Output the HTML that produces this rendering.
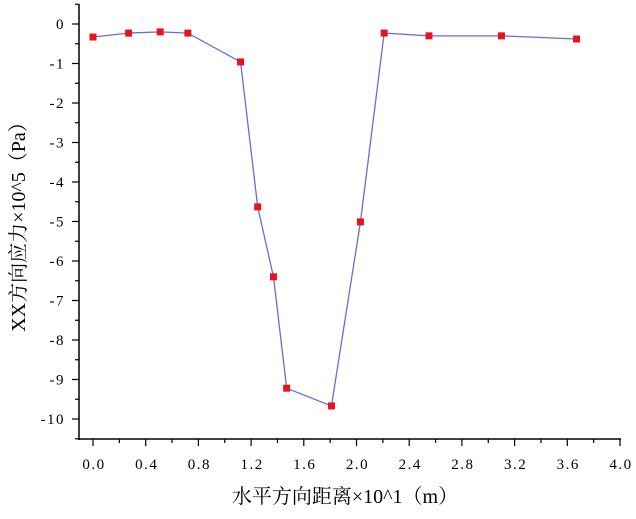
<!DOCTYPE html>
<html><head><meta charset="utf-8"><style>
html,body{margin:0;padding:0;background:#fff;}
svg text{font-family:"Liberation Serif","Noto Serif CJK SC",serif;fill:#000;}
.tk{letter-spacing:1.5px;}
</style></head><body>
<svg id="chart" width="636" height="514"></svg>
<script>
const xValues=[0,0.27,0.51,0.72,1.12,1.25,1.37,1.47,1.81,2.03,2.21,2.55,3.10,3.67];
const yValues=[-0.33,-0.23,-0.2,-0.23,-0.96,-4.63,-6.4,-9.22,-9.67,-5.01,-0.23,-0.3,-0.3,-0.38];
const xTicks=["0.0","0.4","0.8","1.2","1.6","2.0","2.4","2.8","3.2","3.6","4.0"];
const yTicks=["0","-1","-2","-3","-4","-5","-6","-7","-8","-9","-10"];
const NS="http://www.w3.org/2000/svg";
const svg=document.getElementById('chart');
function X(v){return 93+v*131.75;}
function Y(v){return 24-v*39.5;}
function mk(t,a,p){const e=document.createElementNS(NS,t);for(const k in a)e.setAttribute(k,a[k]);(p||svg).appendChild(e);return e;}
const ax=mk('g',{});


mk('line',{x1:79,y1:4,x2:79,y2:440,stroke:'#000','stroke-width':1.5},ax);
mk('line',{x1:78,y1:439,x2:621,y2:439,stroke:'#000','stroke-width':1.5},ax);
yTicks.forEach((t,i)=>{const v=parseFloat(t);const y=Y(v);
mk('line',{x1:72,y1:y,x2:79,y2:y,stroke:'#000','stroke-width':1.2},ax);
if(i<yTicks.length-1)mk('line',{x1:75,y1:Y(v-0.5),x2:79,y2:Y(v-0.5),stroke:'#000','stroke-width':1.2},ax);
const tx=mk('text',{x:65,y:y+5,'text-anchor':'end','font-size':15,'class':'tk'},ax);tx.textContent=t;

});
mk('line',{x1:75,y1:Y(0.5),x2:79,y2:Y(0.5),stroke:'#000','stroke-width':1.2},ax);
mk('line',{x1:75,y1:Y(-10.5),x2:79,y2:Y(-10.5),stroke:'#000','stroke-width':1.2},ax);
xTicks.forEach((t,i)=>{const v=parseFloat(t);const x=X(v);
mk('line',{x1:x,y1:439,x2:x,y2:446,stroke:'#000','stroke-width':1.2},ax);
if(i<xTicks.length-1)mk('line',{x1:X(v+0.2),y1:439,x2:X(v+0.2),y2:443,stroke:'#000','stroke-width':1.2},ax);
const tx=mk('text',{x:x+1,y:469,'text-anchor':'middle','font-size':15,'class':'tk'},ax);tx.textContent=t;

});
const xl=mk('text',{x:345,y:503,'text-anchor':'middle','font-size':20});xl.textContent='水平方向距离×10^1（m）';


const yl=mk('text',{x:0,y:0,'text-anchor':'middle','font-size':20,transform:'translate(25,222) rotate(-90)'});yl.textContent='XX方向应力×10^5（Pa）';


const line=mk('polyline',{points:xValues.map((v,i)=>X(v)+','+Y(yValues[i])).join(' '),fill:'none',stroke:'#6a6ae8','stroke-width':1.3});


xValues.forEach((v,i)=>{const r=mk('rect',{x:X(v)-3.5,y:Y(yValues[i])-3.5,width:7,height:7,fill:'#e8131b'});

});
</script>
</body></html>
